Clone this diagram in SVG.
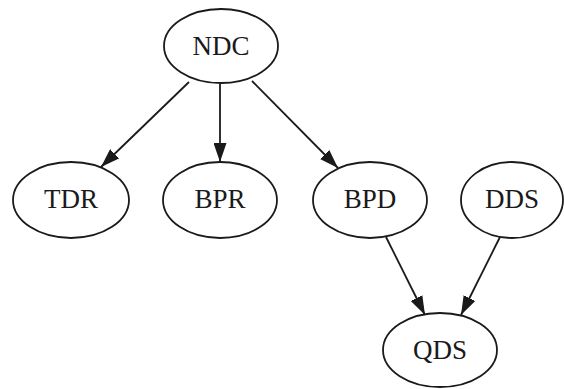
<svg xmlns="http://www.w3.org/2000/svg" width="564" height="389" viewBox="0 0 564 389">
  <style>
    .node ellipse { fill: #ffffff; stroke: #1a1a1a; stroke-width: 1.8; }
    .node text { font-family: "Liberation Serif", "Times New Roman", serif; font-size: 27px; fill: #1a1a1a; text-anchor: middle; dominant-baseline: central; }
    .edge { stroke: #1a1a1a; stroke-width: 1.8; fill: none; marker-end: url(#arrow); }
  </style>
  <defs>
    <marker id="arrow" markerWidth="19" markerHeight="13" refX="19" refY="6.5" orient="auto" markerUnits="userSpaceOnUse">
      <path d="M0,0 L19,6.5 L0,13 Z" fill="#1a1a1a"/>
    </marker>
  </defs>
  <rect width="564" height="389" fill="#ffffff"/>
  <g id="edges">
    <line class="edge" x1="189" y1="82" x2="101" y2="167"/>
    <line class="edge" x1="220" y1="84" x2="220" y2="162"/>
    <line class="edge" x1="252" y1="81" x2="338" y2="168"/>
    <line class="edge" x1="386" y1="237" x2="425" y2="315"/>
    <line class="edge" x1="500" y1="237" x2="461" y2="315"/>
  </g>
  <g id="NDC" class="node">
    <ellipse cx="221" cy="46" rx="57" ry="37"/>
    <text x="221" y="46">NDC</text>
  </g>
  <g id="TDR" class="node">
    <ellipse cx="71" cy="200" rx="58" ry="38"/>
    <text x="71" y="199">TDR</text>
  </g>
  <g id="BPR" class="node">
    <ellipse cx="220" cy="200" rx="57" ry="38"/>
    <text x="220" y="199">BPR</text>
  </g>
  <g id="BPD" class="node">
    <ellipse cx="370" cy="200" rx="57" ry="38"/>
    <text x="370" y="199">BPD</text>
  </g>
  <g id="DDS" class="node">
    <ellipse cx="512" cy="200" rx="51" ry="38"/>
    <text x="512" y="199">DDS</text>
  </g>
  <g id="QDS" class="node">
    <ellipse cx="440" cy="350" rx="57" ry="37"/>
    <text x="440" y="350">QDS</text>
  </g>
</svg>
